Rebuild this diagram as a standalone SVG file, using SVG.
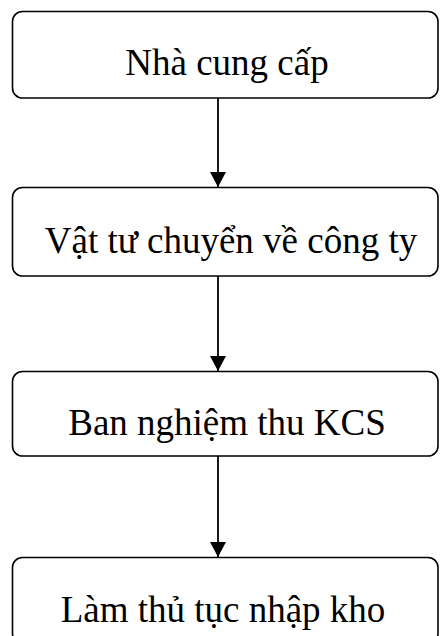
<svg xmlns="http://www.w3.org/2000/svg" width="440" height="636" viewBox="0 0 440 636">
<style>
.box{fill:#fff;stroke:#000;stroke-width:1.6}
.lbl{font-family:"Liberation Serif","Times New Roman",serif;font-size:37px;fill:#000;text-anchor:middle}
.edge{stroke:#000;stroke-width:1.8;fill:none}
</style>
<defs>
<marker id="ah" markerUnits="userSpaceOnUse" markerWidth="16" markerHeight="18" refX="15" refY="8" orient="auto">
<path d="M0,0 L15,8 L0,16 Z" fill="#000"/>
</marker>
</defs>
<rect width="440" height="636" fill="#fff"/>
<g id="connectors">
<line class="edge" x1="218" y1="98" x2="218" y2="187" marker-end="url(#ah)"/>
<line class="edge" x1="218" y1="276" x2="218" y2="371" marker-end="url(#ah)"/>
<line class="edge" x1="218" y1="456" x2="218" y2="557" marker-end="url(#ah)"/>
</g>
<g id="n1">
<rect class="box" x="12.5" y="11.5" width="425.5" height="86.5" rx="10"/>
<text class="lbl" x="227" y="75">Nhà cung cấp</text>
</g>
<g id="n2">
<rect class="box" x="12.5" y="187.5" width="425.5" height="88.5" rx="10"/>
<text class="lbl" x="231" y="253">Vật tư chuyển về công ty</text>
</g>
<g id="n3">
<rect class="box" x="12.5" y="371.5" width="425.5" height="84.5" rx="10"/>
<text class="lbl" x="227" y="435">Ban nghiệm thu KCS</text>
</g>
<g id="n4">
<rect class="box" x="12.5" y="557.5" width="425.5" height="86" rx="10"/>
<text class="lbl" x="223" y="622">Làm thủ tục nhập kho</text>
</g>
</svg>
